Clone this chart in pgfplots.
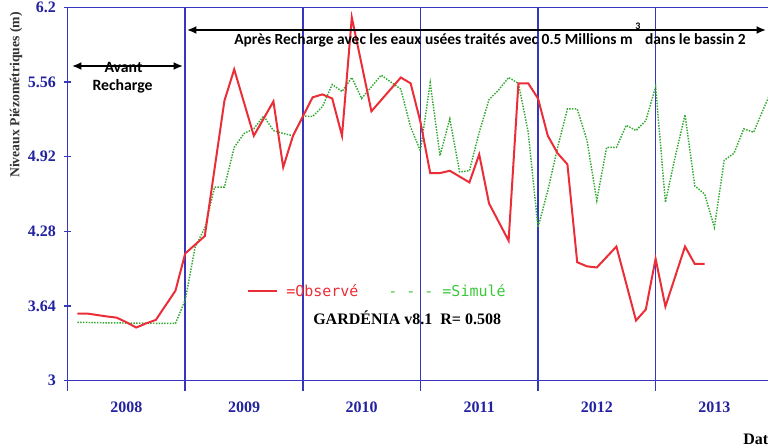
\documentclass[border=0pt]{standalone}
\usepackage{pgfplots}
\pgfplotsset{compat=1.18}
\usepackage{pgfplotstable}
\usepackage{fontspec}
\usetikzlibrary{arrows.meta}
\setmainfont{Liberation Serif}
\newfontfamily\calib{Carlito}
\newfontfamily\mono{DejaVu Sans Mono}

\definecolor{axblue}{RGB}{55,55,190}
\definecolor{tickblue}{RGB}{35,35,160}
\definecolor{obsred}{RGB}{235,45,55}
\definecolor{simgreen}{RGB}{50,170,50}
\definecolor{leggreen}{RGB}{60,200,60}

% mois depuis janvier 2008, niveau (m)
\pgfplotstableread{
m   h
1   3.575
2   3.575
4   3.55
5   3.54
6   3.50
7   3.455
8   3.49
9   3.52
11  3.77
12  4.09
14  4.24
16  5.40
17  5.67
19  5.10
21  5.395
22  4.83
23  5.10
25  5.43
26  5.455
27  5.42
28  5.10
29  6.115
31  5.31
34  5.60
35  5.55
36  5.22
37  4.78
38  4.78
39  4.80
41  4.70
42  4.94
43  4.52
45  4.20
46  5.55
47  5.55
48  5.42
49  5.10
50  4.95
51  4.855
52  4.015
53  3.98
54  3.97
56  4.15
58  3.515
59  3.61
60  4.045
61  3.635
63  4.15
64  4.00
65  4.00
}\observe

\pgfplotstableread{
m   h
1   3.50
4   3.495
11  3.49
12  3.69
13  4.14
14  4.31
15  4.66
16  4.66
17  5.00
18  5.12
19  5.16
20  5.27
21  5.145
22  5.12
23  5.10
24  5.27
25  5.265
26  5.35
27  5.54
28  5.48
29  5.60
30  5.42
31  5.52
32  5.62
33  5.56
34  5.50
35  5.175
36  4.97
37  5.555
38  4.93
39  5.245
40  4.79
41  4.80
42  5.13
43  5.41
44  5.495
45  5.60
46  5.55
47  5.13
48  4.315
49  4.63
50  5.00
51  5.33
52  5.33
53  5.06
54  4.545
55  5.00
56  5.00
57  5.19
58  5.145
59  5.23
60  5.52
61  4.53
62  4.92
63  5.28
64  4.67
65  4.60
66  4.315
67  4.89
68  4.95
69  5.16
70  5.13
71  5.33
72  5.52
}\simule

\begin{document}
\begin{tikzpicture}[x=0.75pt,y=0.75pt]
\useasboundingbox (0,0) rectangle (768,447);
\clip (0,0) rectangle (768,447);
\begin{axis}[
    at={(69,57)}, anchor=south west,
    scale only axis, width=529.2pt, height=279.75pt,
    xmin=0, xmax=72, ymin=3, ymax=6.2,
    axis line style={axblue, line width=1.2pt},
    tick pos=left,
    tick align=center,
    xtick={6,18,...,66},
    xticklabels={2008,2009,2010,2011,2012,2013},
    minor xtick={0,12,...,72},
    xminorgrids,
    minor grid style={axblue, line width=1.2pt},
    major x tick style={draw=none},
    minor tick length=15pt,
    major tick length=5.25pt,
    tick style={axblue, line width=1.1pt},
    ytick={3,3.64,4.28,4.92,5.56,6.2},
    /pgf/number format/fixed,
    /pgf/number format/precision=2,
    /pgf/number format/assume math mode=true,
    ticklabel style={font=\bfseries\fontsize{12}{12}\selectfont, text=tickblue},
    xticklabel style={inner sep=0pt, yshift=-13pt},
    yticklabel style={inner sep=0pt, xshift=-6pt},
]
\addplot[simgreen, line width=1.1pt, densely dotted] table[x=m, y=h] {\simule};
\addplot[obsred, line width=1.5pt] table[x=m, y=h] {\observe};
\end{axis}

% fleches et annotations
\draw[line width=1.4pt, {Latex[length=7pt,width=6pt]}-{Latex[length=7pt,width=6pt]}] (72,381) -- (183,381);
\draw[line width=1.4pt, {Latex[length=7pt,width=6pt]}-{Latex[length=7pt,width=6pt]}] (187,417) -- (766,417);
\node[font=\calib\bfseries\fontsize{11.8}{11.8}\selectfont] at (123.5,380) {Avant};
\node[font=\calib\bfseries\fontsize{11.8}{11.8}\selectfont] at (122.5,361) {Recharge};
\node[anchor=base west, inner sep=0pt, font=\calib\bfseries\fontsize{11.6}{11.6}\selectfont] at (234,402) {Après Recharge avec les eaux usées traités avec 0.5 Millions m};
\node[anchor=base east, inner sep=0pt, font=\calib\bfseries\fontsize{11.6}{11.6}\selectfont] at (746,402) {dans le bassin 2};
\node[font=\calib\bfseries\fontsize{7.5}{7.5}\selectfont] at (638,421) {3};

% legende
\draw[obsred, line width=1.6pt] (248,156) -- (277,156);
\node[anchor=west, inner sep=0pt, text=obsred, font=\mono\fontsize{11.25}{11.25}\selectfont] at (286,156) {=Observé};
\node[anchor=west, inner sep=0pt, text=leggreen, font=\mono\fontsize{11.25}{11.25}\selectfont] at (388,156) {- - - =Simulé};
\node[anchor=base west, inner sep=0pt, font=\bfseries\fontsize{12}{12}\selectfont] at (313,123) {GARDÉNIA v8.1\ \ R= 0.508};

\node[rotate=90, text=black!80, font=\bfseries\fontsize{10.3}{10.3}\selectfont] at (16,352) {Niveaux Piézométriques (m)};
\node[anchor=base west, inner sep=0pt, font=\bfseries\fontsize{12}{12}\selectfont] at (743,3) {Date};
\end{tikzpicture}
\end{document}
